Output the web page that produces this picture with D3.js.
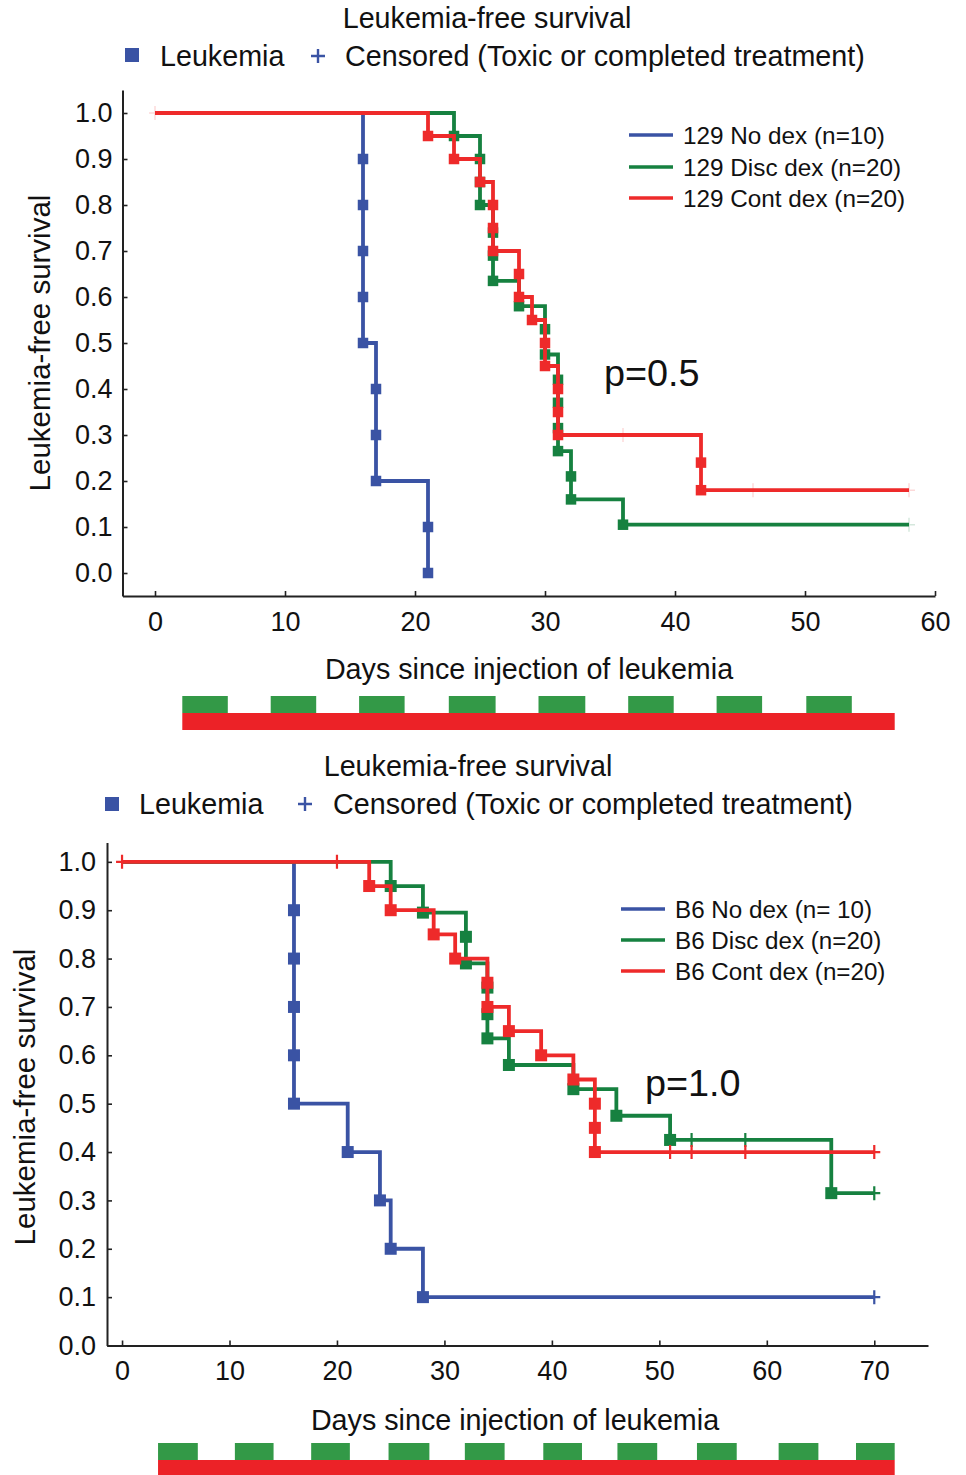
<!DOCTYPE html>
<html><head><meta charset="utf-8">
<script src="https://cdn.jsdelivr.net/npm/d3@7"></script>
<style>
body{margin:0;background:#fff}
text{font-family:"Liberation Sans",Arial,Helvetica,sans-serif;fill:#111}
</style>
</head><body>
<svg id="c" width="966" height="1475"></svg>
<script>
// ---------- DATA ----------
const seriesColors = ["#3a53a4", "#168140", "#ee2a2a"];
const barGreen = "#339947", barRed = "#ec2227";
const legendTop = ["129 No dex (n=10)", "129 Disc dex (n=20)", "129 Cont dex (n=20)"];
const legendBottom = ["B6 No dex (n= 10)", "B6 Disc dex (n=20)", "B6 Cont dex (n=20)"];
const titleText = "Leukemia-free survival";
const markerLegend = ["Leukemia", "Censored (Toxic or completed treatment)"];
const xTitle = "Days since injection of leukemia";
const yTitle = "Leukemia-free survival";
const pTop = "p=0.5", pBottom = "p=1.0";
const yTicks = [0,0.1,0.2,0.3,0.4,0.5,0.6,0.7,0.8,0.9,1.0];
const xTicksTop = [0,10,20,30,40,50,60];
const xTicksBottom = [0,10,20,30,40,50,60,70];

// Top (129) cohorts: event days, survival after each event, censor days, end day
const t_noDex_days = [16,16,16,16,16,17,17,17,21,21];
const t_noDex_surv = [0.9,0.8,0.7,0.6,0.5,0.4,0.3,0.2,0.1,0.0];
const t_noDex_cens = [];
const t_noDex_end = 21;
const t_disc_days = [23,25,25,25,26,26,26,28,30,30,31,31,31,31,32,32,36];
const t_disc_surv = [0.95,0.90,0.85,0.80,0.74,0.69,0.635,0.58,0.53,0.475,0.42,0.37,0.315,0.265,0.21,0.16,0.105];
const t_disc_cens = [58];
const t_disc_end = 58;
const t_cont_days = [21,23,25,26,26,26,28,28,29,30,30,31,31,31,42,42];
const t_cont_surv = [0.95,0.90,0.85,0.80,0.75,0.70,0.65,0.60,0.55,0.50,0.45,0.40,0.35,0.30,0.24,0.18];
const t_cont_cens = [0,36,46,58];
const t_cont_end = 58;

// Bottom (B6) cohorts
const b_noDex_days = [16,16,16,16,16,21,24,25,28];
const b_noDex_surv = [0.9,0.8,0.7,0.6,0.5,0.4,0.3,0.2,0.1];
const b_noDex_cens = [70];
const b_noDex_end = 70;
const b_disc_days = [25,28,32,32,34,34,34,36,42,46,51,66];
const b_disc_surv = [0.95,0.895,0.845,0.79,0.74,0.685,0.635,0.58,0.53,0.475,0.425,0.315];
const b_disc_cens = [53,58,70];
const b_disc_end = 70;
const b_cont_days = [23,25,29,31,34,34,36,39,42,44,44,44];
const b_cont_surv = [0.95,0.90,0.85,0.80,0.75,0.70,0.65,0.60,0.55,0.50,0.45,0.40];
const b_cont_cens = [0,20,51,53,58,70];
const b_cont_end = 70;

// Treatment schedule bars (days)
const t_discStart = [2.1,8.9,15.7,22.6,29.5,36.4,43.2,50.1];
const t_discEnd   = [5.6,12.4,19.2,26.2,33.1,39.9,46.7,53.6];
const t_contRange = [2.1,56.9];
const b_discStart = [3.35,10.5,17.6,24.8,31.9,39.2,46.1,53.5,61.1,68.3];
const b_discEnd   = [7.05,14.1,21.2,28.6,35.6,42.8,49.8,57.2,64.8,71.9];
const b_contRange = [3.35,71.9];

// ---------- DRAW ----------
const svg = d3.select("#c");
svg.append("rect").attr("width",966).attr("height",1475).attr("fill","#fff");
const BIG = 28.7;

function panel(o){
  const g = svg.append("g");
  const x = d3.scaleLinear().domain(o.xDomain).range(o.xRange);
  const y = d3.scaleLinear().domain(o.yDomain).range(o.yRange);

  // title
  g.append("text").attr("x",o.titleX).attr("y",o.titleY).attr("text-anchor","middle")
    .attr("font-size",BIG).text(titleText);
  // marker legend
  g.append("rect").attr("x",o.legSq[0]).attr("y",o.legSq[1]).attr("width",14).attr("height",14).attr("fill",seriesColors[0]);
  g.append("text").attr("x",o.legTxt1).attr("y",o.legBase).attr("font-size",BIG).text(markerLegend[0]);
  const px = o.legPlus[0], py = o.legPlus[1];
  g.append("path").attr("d",`M${px-7},${py}H${px+7}M${px},${py-7}V${py+7}`).attr("stroke",seriesColors[0]).attr("stroke-width",2.4);
  g.append("text").attr("x",o.legTxt2).attr("y",o.legBase).attr("font-size",BIG).text(markerLegend[1]);

  // axes
  const xa = d3.axisBottom(x).tickValues(o.xTicks).tickSize(-5).tickSizeOuter(0).tickPadding(o.xPad).tickFormat(d3.format("d"));
  const ya = d3.axisLeft(y).tickValues(yTicks).tickSize(-5).tickSizeOuter(0).tickPadding(o.yPad).tickFormat(d3.format(".1f"));
  const gx = g.append("g").attr("transform",`translate(0,${o.xAxisY})`).call(xa);
  const gy = g.append("g").attr("transform",`translate(${o.yAxisX},0)`).call(ya);
  [gx,gy].forEach(a=>{
    a.select(".domain").attr("stroke","#222").attr("stroke-width",2);
    a.selectAll(".tick line").attr("stroke","#222").attr("stroke-width",1.6);
    a.selectAll(".tick text").attr("font-size",o.tickFont).attr("fill","#111")
      .attr("font-family",'"Liberation Sans",Arial,sans-serif');
  });
  // axis titles
  g.append("text").attr("x",o.xTitleX).attr("y",o.xTitleY).attr("text-anchor","middle").attr("font-size",BIG).text(xTitle);
  g.append("text").attr("transform",`translate(${o.yTitleX},${o.yTitleY}) rotate(-90)`).attr("text-anchor","middle")
    .attr("dy","0.35em").attr("font-size",29.5).text(yTitle);

  // inner legend
  o.legendNames.forEach((n,i)=>{
    const ly = o.innerLegY[i];
    g.append("line").attr("x1",o.innerLegX).attr("x2",o.innerLegX+44).attr("y1",ly).attr("y2",ly)
      .attr("stroke",seriesColors[i]).attr("stroke-width",3.6);
    g.append("text").attr("x",o.innerLegX+54).attr("y",ly).attr("dy","0.36em").attr("font-size",o.innerFont).text(n);
  });
  // p value
  g.append("text").attr("x",o.pX).attr("y",o.pY).attr("font-size",37.8).text(o.pText);

  // curves
  const line = d3.line().x(d=>x(d[0])).y(d=>y(d[1])).curve(d3.curveStepAfter);
  o.series.forEach((s,i)=>{
    const col = seriesColors[i];
    const pts = [[0,1]];
    const days = Array.from(new Set(s.days));
    days.forEach(d=>{
      const v = d3.min(s.days.map((dd,k)=>dd===d?s.surv[k]:Infinity));
      pts.push([d,v]);
    });
    pts.push([s.end, pts[pts.length-1][1]]);
    g.append("path").attr("d",line(pts)).attr("fill","none").attr("stroke",col).attr("stroke-width",3.8);
    // censor marks
    s.cens.forEach(c=>{
      let v = 1;
      pts.forEach(p=>{ if (p[0] <= c) v = p[1]; });
      const cx = x(c), cy = y(v);
      g.append("path").attr("d",`M${cx-6},${cy}H${cx+6}M${cx},${cy-7}V${cy+7}`)
        .attr("stroke",col).attr("stroke-width",o.censW).attr("stroke-opacity",o.censOp);
    });
    // event markers
    s.days.forEach((d,k)=>{
      g.append("rect").attr("x",x(d)-o.mk/2).attr("y",y(s.surv[k])-o.mk/2)
        .attr("width",o.mk).attr("height",o.mk).attr("fill",col);
    });
  });

  // treatment bars
  o.discStart.forEach((d,i)=>{
    g.append("rect").attr("x",x(d)).attr("y",o.barY).attr("width",x(o.discEnd[i])-x(d)).attr("height",o.barH[0]).attr("fill",barGreen);
  });
  g.append("rect").attr("x",x(o.contRange[0])).attr("y",o.barY+o.barH[0]).attr("width",x(o.contRange[1])-x(o.contRange[0]))
    .attr("height",o.barH[1]).attr("fill",barRed);
}

panel({
  xDomain:[-2.5,60], xRange:[122.5,935], yDomain:[-0.05,1.05], yRange:[596,90],
  xAxisY:596, yAxisX:122.5, xTicks:xTicksTop, xPad:16, yPad:10, tickFont:27, innerFont:24.3,
  titleX:487, titleY:28, legSq:[125,48], legTxt1:160, legTxt2:345, legPlus:[318,56], legBase:66,
  xTitleX:529, xTitleY:679, yTitleX:40, yTitleY:343,
  legendNames:legendTop, innerLegX:629, innerLegY:[135,167,198],
  pX:604, pY:386, pText:pTop, mk:10.5, censW:1.5, censOp:0.18,
  series:[
    {days:t_noDex_days, surv:t_noDex_surv, cens:t_noDex_cens, end:t_noDex_end},
    {days:t_disc_days, surv:t_disc_surv, cens:t_disc_cens, end:t_disc_end},
    {days:t_cont_days, surv:t_cont_surv, cens:t_cont_cens, end:t_cont_end}
  ],
  discStart:t_discStart, discEnd:t_discEnd, contRange:t_contRange, barY:696, barH:[17,17]
});

panel({
  xDomain:[-1.4,75], xRange:[107,928], yDomain:[0,1.04], yRange:[1345.5,842.5],
  xAxisY:1345.5, yAxisX:107, xTicks:xTicksBottom, xPad:15, yPad:11, tickFont:27, innerFont:24.2,
  titleX:468, titleY:776, legSq:[105,797], legTxt1:139, legTxt2:333, legPlus:[305,804], legBase:814,
  xTitleX:515, xTitleY:1430, yTitleX:25, yTitleY:1097,
  legendNames:legendBottom, innerLegX:621, innerLegY:[909,940,971],
  pX:645, pY:1096, pText:pBottom, mk:12, censW:2.2, censOp:1,
  series:[
    {days:b_noDex_days, surv:b_noDex_surv, cens:b_noDex_cens, end:b_noDex_end},
    {days:b_disc_days, surv:b_disc_surv, cens:b_disc_cens, end:b_disc_end},
    {days:b_cont_days, surv:b_cont_surv, cens:b_cont_cens, end:b_cont_end}
  ],
  discStart:b_discStart, discEnd:b_discEnd, contRange:b_contRange, barY:1443, barH:[17,16]
});
</script>
</body></html>
